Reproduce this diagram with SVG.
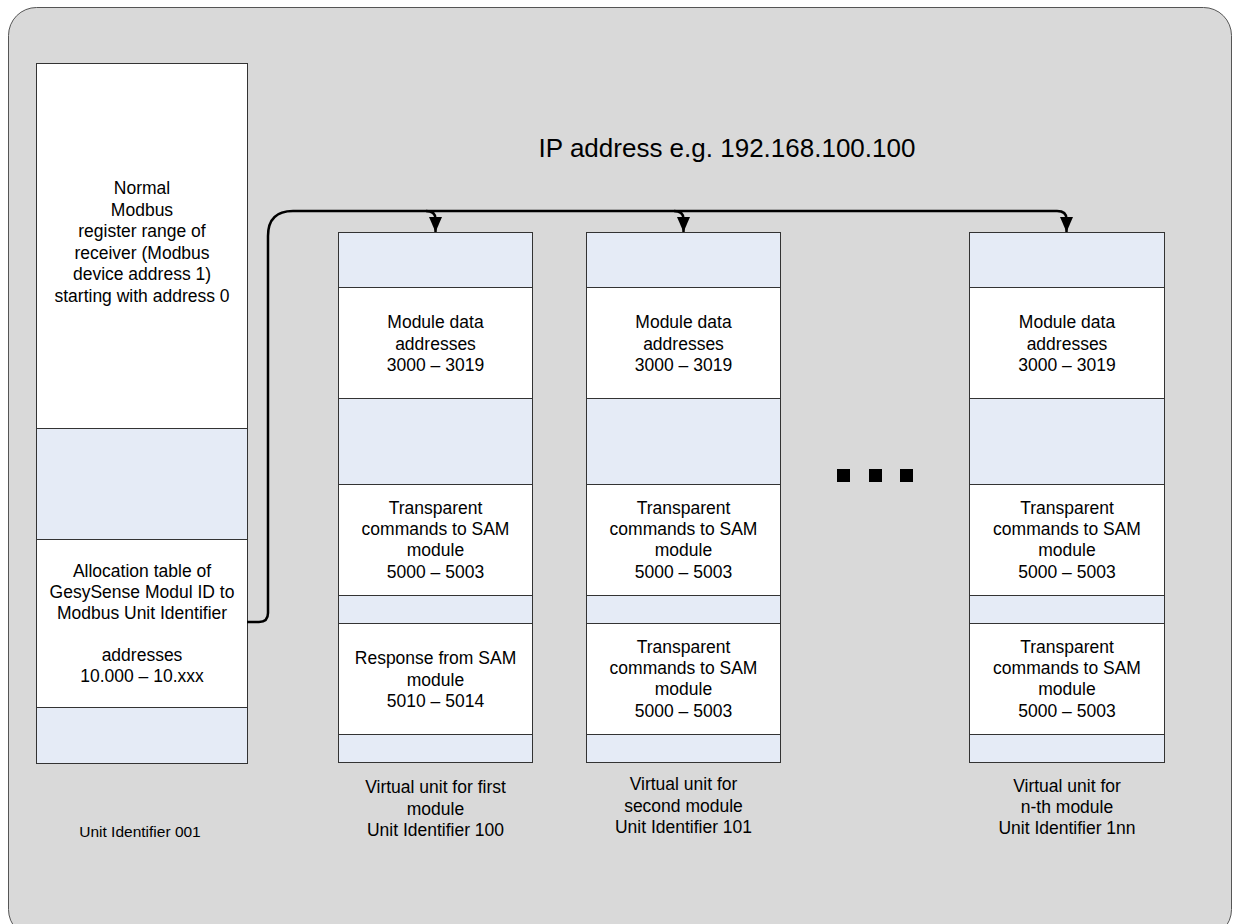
<svg xmlns="http://www.w3.org/2000/svg" width="1234" height="924" viewBox="0 0 1234 924">
<style>
text{font-family:"Liberation Sans",Arial,sans-serif;fill:#000;text-anchor:middle}
.t{font-size:17.5px}
.s{font-size:15.5px}
.title{font-size:26px}
.w{fill:#fff;stroke:#333;stroke-width:1}
.b{fill:#e5ebf6;stroke:#333;stroke-width:1}
.con{fill:none;stroke:#000;stroke-width:2.5}
</style>
<defs>
<marker id="ah" viewBox="0 0 15 13" refX="15" refY="6.5" markerWidth="15" markerHeight="13" markerUnits="userSpaceOnUse" orient="auto">
<path d="M0,0 L15,6.5 L0,13 Z" fill="#000"/>
</marker>
</defs>
<rect id="background" x="8.5" y="7.5" width="1223" height="930" rx="28" ry="28" fill="#d9d9d9" stroke="#555" stroke-width="1"/>
<text class="title" x="727" y="157">IP address e.g. 192.168.100.100</text>

<g id="unit001">
<rect class="w" x="36.5" y="63.5" width="211" height="365"/>
<rect class="b" x="36.5" y="428.5" width="211" height="111"/>
<rect class="w" x="36.5" y="539.5" width="211" height="168"/>
<rect class="b" x="36.5" y="707.5" width="211" height="56"/>
<text class="t" x="142" y="194">Normal</text>
<text class="t" x="142" y="215.5">Modbus</text>
<text class="t" x="142" y="237">register range of</text>
<text class="t" x="142" y="258.5">receiver (Modbus</text>
<text class="t" x="142" y="280">device address 1)</text>
<text class="t" x="142" y="301.5">starting with address 0</text>
<text class="t" x="142" y="577">Allocation table of</text>
<text class="t" x="142" y="598">GesySense Modul ID to</text>
<text class="t" x="142" y="619">Modbus Unit Identifier</text>
<text class="t" x="142" y="661">addresses</text>
<text class="t" x="142" y="682">10.000 – 10.xxx</text>
<text class="s" x="140" y="837">Unit Identifier 001</text>
</g>

<g id="unit100">
<rect class="b" x="338.5" y="232.5" width="194" height="55"/>
<rect class="w" x="338.5" y="287.5" width="194" height="111"/>
<rect class="b" x="338.5" y="398.5" width="194" height="86"/>
<rect class="w" x="338.5" y="484.5" width="194" height="111"/>
<rect class="b" x="338.5" y="595.5" width="194" height="28"/>
<rect class="w" x="338.5" y="623.5" width="194" height="111"/>
<rect class="b" x="338.5" y="734.5" width="194" height="28"/>
<text class="t" x="435.5" y="328">Module data</text>
<text class="t" x="435.5" y="349.5">addresses</text>
<text class="t" x="435.5" y="371">3000 – 3019</text>
<text class="t" x="435.5" y="514">Transparent</text>
<text class="t" x="435.5" y="535">commands to SAM</text>
<text class="t" x="435.5" y="556">module</text>
<text class="t" x="435.5" y="578">5000 – 5003</text>
<text class="t" x="435.5" y="664">Response from SAM</text>
<text class="t" x="435.5" y="685.5">module</text>
<text class="t" x="435.5" y="707">5010 – 5014</text>
<text class="t" x="435.5" y="793">Virtual unit for first</text>
<text class="t" x="435.5" y="814.5">module</text>
<text class="t" x="435.5" y="836">Unit Identifier 100</text>
</g>

<g id="unit101">
<rect class="b" x="586.5" y="232.5" width="194" height="55"/>
<rect class="w" x="586.5" y="287.5" width="194" height="111"/>
<rect class="b" x="586.5" y="398.5" width="194" height="86"/>
<rect class="w" x="586.5" y="484.5" width="194" height="111"/>
<rect class="b" x="586.5" y="595.5" width="194" height="28"/>
<rect class="w" x="586.5" y="623.5" width="194" height="111"/>
<rect class="b" x="586.5" y="734.5" width="194" height="28"/>
<text class="t" x="683.5" y="328">Module data</text>
<text class="t" x="683.5" y="349.5">addresses</text>
<text class="t" x="683.5" y="371">3000 – 3019</text>
<text class="t" x="683.5" y="514">Transparent</text>
<text class="t" x="683.5" y="535">commands to SAM</text>
<text class="t" x="683.5" y="556">module</text>
<text class="t" x="683.5" y="578">5000 – 5003</text>
<text class="t" x="683.5" y="653">Transparent</text>
<text class="t" x="683.5" y="674">commands to SAM</text>
<text class="t" x="683.5" y="695">module</text>
<text class="t" x="683.5" y="717">5000 – 5003</text>
<text class="t" x="683.5" y="790">Virtual unit for</text>
<text class="t" x="683.5" y="811.5">second module</text>
<text class="t" x="683.5" y="833">Unit Identifier 101</text>
</g>

<g id="unit1nn">
<rect class="b" x="969.5" y="232.5" width="195" height="55"/>
<rect class="w" x="969.5" y="287.5" width="195" height="111"/>
<rect class="b" x="969.5" y="398.5" width="195" height="86"/>
<rect class="w" x="969.5" y="484.5" width="195" height="111"/>
<rect class="b" x="969.5" y="595.5" width="195" height="28"/>
<rect class="w" x="969.5" y="623.5" width="195" height="111"/>
<rect class="b" x="969.5" y="734.5" width="195" height="28"/>
<text class="t" x="1067" y="328">Module data</text>
<text class="t" x="1067" y="349.5">addresses</text>
<text class="t" x="1067" y="371">3000 – 3019</text>
<text class="t" x="1067" y="514">Transparent</text>
<text class="t" x="1067" y="535">commands to SAM</text>
<text class="t" x="1067" y="556">module</text>
<text class="t" x="1067" y="578">5000 – 5003</text>
<text class="t" x="1067" y="653">Transparent</text>
<text class="t" x="1067" y="674">commands to SAM</text>
<text class="t" x="1067" y="695">module</text>
<text class="t" x="1067" y="717">5000 – 5003</text>
<text class="t" x="1067" y="792">Virtual unit for</text>
<text class="t" x="1067" y="813">n-th module</text>
<text class="t" x="1067" y="834">Unit Identifier 1nn</text>
</g>

<g id="ellipsis" fill="#000">
<rect x="837" y="469" width="13" height="13"/>
<rect x="869" y="469" width="13" height="13"/>
<rect x="900" y="469" width="13" height="13"/>
</g>

<g id="connectors">
<path class="con" d="M247,622 H259 Q268,622 268,613 V236 Q268,211 293,211 H1057 Q1066.5,211 1066.5,219 V232" marker-end="url(#ah)"/>
<path class="con" d="M426,211 Q435.5,211 435.5,219 V232" marker-end="url(#ah)"/>
<path class="con" d="M674,211 Q683.5,211 683.5,219 V232" marker-end="url(#ah)"/>
</g>
</svg>
